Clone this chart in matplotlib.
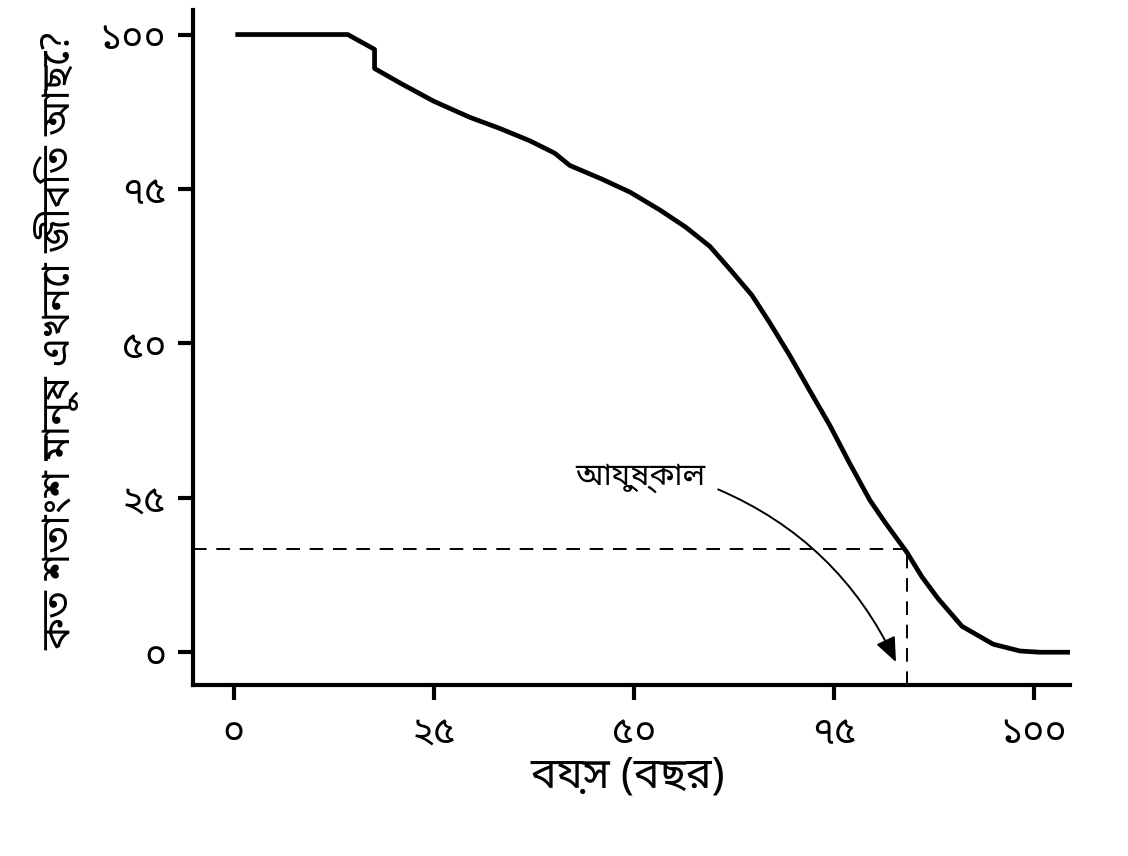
import numpy as np
import matplotlib.pyplot as plt
from matplotlib import font_manager
from matplotlib.text import Text
from matplotlib.ft2font import FT2Font

# look for installed fonts that have Bengali glyphs, prefer the usual ones
found = []
for path in font_manager.findSystemFonts():
    try:
        if 0x0995 in FT2Font(path).get_charmap():
            found.append(font_manager.FontProperties(fname=path).get_name())
    except Exception:
        pass
prefer = ['Noto Sans Bengali', 'Noto Serif Bengali', 'Lohit Bengali', 'Mukti Narrow',
          'Likhan', 'FreeSans', 'FreeSerif']
bn_font = None
for name in prefer:
    if name in found:
        bn_font = name
        break
if bn_font is None and found:
    bn_font = sorted(found)[0]
fams = ([bn_font] if bn_font else []) + ['DejaVu Sans']
plt.rcParams['font.family'] = fams

# survival curve (age in years, percent alive)
age = [0.5, 14.25, 17.6, 17.6, 21, 25, 29.5, 33.25, 37, 40.1, 42, 46, 49.5,
       53.25, 56.5, 59.5, 62, 64.75, 67, 69.5, 72, 74.5, 77, 79.5, 81.4, 84.1,
       86, 88, 91, 94.9, 98.25, 100.75, 104.5]
alive = [100, 100, 97.6, 94.5, 92, 89.2, 86.6, 84.8, 82.8, 80.8, 78.8, 76.6, 74.5,
         71.6, 68.8, 65.7, 62, 57.8, 53.3, 48, 42.3, 36.7, 30.5, 24.6, 21, 16.2,
         12.2, 8.7, 4.2, 1.3, 0.2, 0, 0]

life_exp = 84.1
life_pct = 16.7

ticks = [0, 25, 50, 75, 100]
tick_labels = ['০', '২৫', '৫০', '৭৫', '১০০']

# o-kar written as its two canonical parts (no shaping in matplotlib)
ylabel_text = 'কত শতাংশ মানুষ এখনো জীবিত আছে?'.replace('\u09cb', '\u09c7\u09be')

fig = plt.figure(figsize=(11.28, 8.56), dpi=100)
ax = fig.add_axes([0.171, 0.1998, 0.7776, 0.788])

ax.plot(age, alive, color='black', lw=3.4, solid_joinstyle='round')

ax.plot([-5.1, life_exp], [life_pct, life_pct], color='black', lw=1.4, ls=(0, (7, 5)))
ax.plot([life_exp, life_exp], [-5.3, life_pct], color='black', lw=1.4, ls=(0, (7, 5)))

note = ax.annotate('আয়ুষ্কাল', xy=(82.75, -1.6), xytext=(58.9, 28.2),
                   fontsize=20, ha='right', va='center',
                   arrowprops=dict(arrowstyle='-|>,head_length=0.6,head_width=0.25',
                                   color='black', lw=1.4, mutation_scale=25,
                                   connectionstyle='arc3,rad=-0.2',
                                   relpos=(1.0, 0.3), shrinkA=8, shrinkB=0))

ax.set_xlim(-5.1, 104.5)
ax.set_ylim(-5.3, 103.9)
ax.set_xticks(ticks)
ax.set_xticklabels(tick_labels)
ax.set_yticks(ticks)
ax.set_yticklabels(tick_labels)
ax.tick_params(direction='out', length=11, width=3, labelsize=27)
ax.tick_params(axis='y', pad=8)
ax.tick_params(axis='x', pad=10)

for s in ['top', 'right']:
    ax.spines[s].set_visible(False)
for s in ['left', 'bottom']:
    ax.spines[s].set_linewidth(3)

xl = ax.set_xlabel('বয়স (বছর)', fontsize=22, fontweight='bold')
yl = ax.set_ylabel(ylabel_text, fontsize=22, fontweight='bold')
yl.set_va('center')
xl.set_va('center')
ax.yaxis.set_label_coords(-0.154, 0.511)
ax.xaxis.set_label_coords(0.496, -0.135)

# size texts to the lengths they have in the reference (pixels)
fig.canvas.draw()
r = fig.canvas.get_renderer()
for t, target, vertical in [(yl, 620, True), (xl, 195, False), (note, 130, False)]:
    bb = Text.get_window_extent(t, r)
    size = bb.height if vertical else bb.width
    t.set_fontsize(t.get_fontsize() * target / size)

fig.savefig('out.png', dpi=100)
